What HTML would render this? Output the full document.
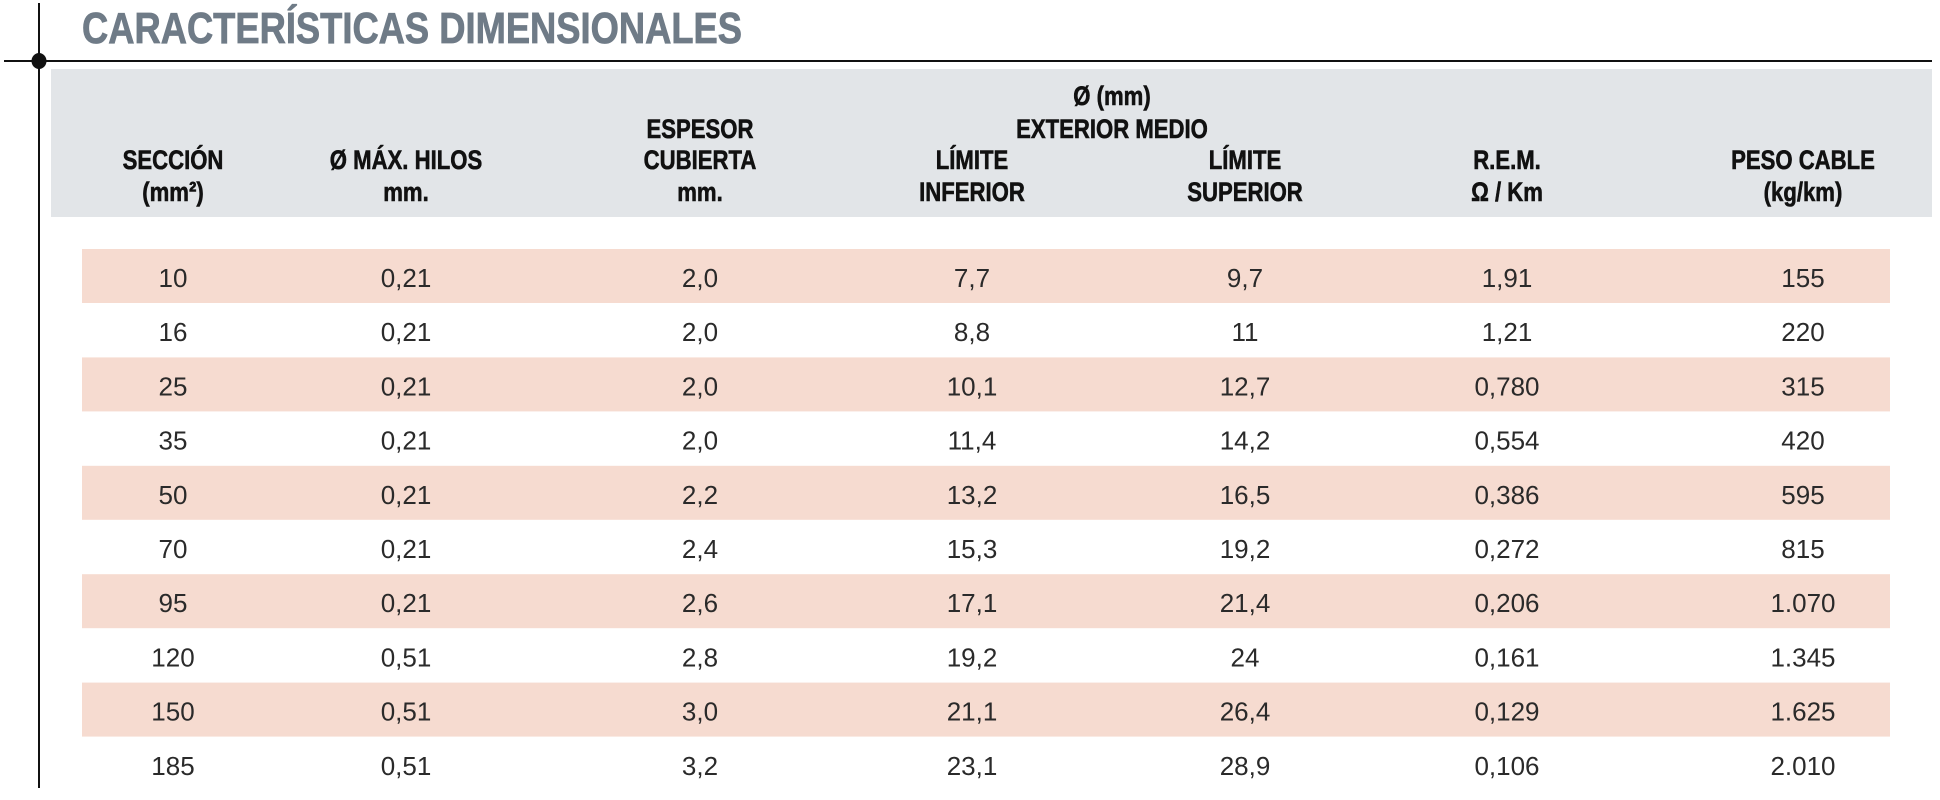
<!DOCTYPE html>
<html><head><meta charset="utf-8"><style>html,body{margin:0;padding:0;background:#fff;}svg{display:block}</style></head>
<body>
<svg width="1940" height="800" viewBox="0 0 1940 800" xmlns="http://www.w3.org/2000/svg">
<rect x="0" y="0" width="1940" height="800" fill="#fff"/>
<text x="82" y="43" font-family="Liberation Sans, sans-serif" font-weight="bold" font-size="44" fill="#6f7b87" stroke="#6f7b87" stroke-width="0.8" textLength="660" lengthAdjust="spacingAndGlyphs">CARACTERÍSTICAS DIMENSIONALES</text>
<rect x="51" y="69" width="1881" height="148" fill="#e2e5e8"/>
<line x1="4" y1="61" x2="1932" y2="61" stroke="#111" stroke-width="2"/>
<line x1="39" y1="3" x2="39" y2="788" stroke="#111" stroke-width="2"/>
<ellipse cx="39" cy="61" rx="7.5" ry="8" fill="#111"/>
<g fill="#f6dbd0">
<rect x="82" y="249" width="1808" height="54"/>
<rect x="82" y="357.4" width="1808" height="54"/>
<rect x="82" y="465.8" width="1808" height="54"/>
<rect x="82" y="574.2" width="1808" height="54"/>
<rect x="82" y="682.6" width="1808" height="54"/>
</g>
<g font-family="Liberation Sans, sans-serif" font-weight="bold" font-size="27" fill="#111" stroke="#111" stroke-width="0.6" text-anchor="middle">
<text transform="translate(173,169) scale(0.82,1)">SECCIÓN</text>
<text transform="translate(173,201) scale(0.82,1)">(mm²)</text>
<text transform="translate(406,169) scale(0.82,1)">Ø MÁX. HILOS</text>
<text transform="translate(406,201) scale(0.82,1)">mm.</text>
<text transform="translate(700,138) scale(0.82,1)">ESPESOR</text>
<text transform="translate(700,169) scale(0.82,1)">CUBIERTA</text>
<text transform="translate(700,201) scale(0.82,1)">mm.</text>
<text transform="translate(1112,105) scale(0.82,1)">Ø (mm)</text>
<text transform="translate(1112,138) scale(0.82,1)">EXTERIOR MEDIO</text>
<text transform="translate(972,169) scale(0.82,1)">LÍMITE</text>
<text transform="translate(972,201) scale(0.82,1)">INFERIOR</text>
<text transform="translate(1245,169) scale(0.82,1)">LÍMITE</text>
<text transform="translate(1245,201) scale(0.82,1)">SUPERIOR</text>
<text transform="translate(1507,169) scale(0.82,1)">R.E.M.</text>
<text transform="translate(1507,201) scale(0.82,1)">Ω / Km</text>
<text transform="translate(1803,169) scale(0.82,1)">PESO CABLE</text>
<text transform="translate(1803,201) scale(0.82,1)">(kg/km)</text>
</g>
<g font-family="Liberation Sans, sans-serif" font-size="26" fill="#2a2a2a" text-anchor="middle">
<text x="173" y="287">10</text><text x="406" y="287">0,21</text><text x="700" y="287">2,0</text><text x="972" y="287">7,7</text><text x="1245" y="287">9,7</text><text x="1507" y="287">1,91</text><text x="1803" y="287">155</text>
<text x="173" y="341.2">16</text><text x="406" y="341.2">0,21</text><text x="700" y="341.2">2,0</text><text x="972" y="341.2">8,8</text><text x="1245" y="341.2">11</text><text x="1507" y="341.2">1,21</text><text x="1803" y="341.2">220</text>
<text x="173" y="395.4">25</text><text x="406" y="395.4">0,21</text><text x="700" y="395.4">2,0</text><text x="972" y="395.4">10,1</text><text x="1245" y="395.4">12,7</text><text x="1507" y="395.4">0,780</text><text x="1803" y="395.4">315</text>
<text x="173" y="449.6">35</text><text x="406" y="449.6">0,21</text><text x="700" y="449.6">2,0</text><text x="972" y="449.6">11,4</text><text x="1245" y="449.6">14,2</text><text x="1507" y="449.6">0,554</text><text x="1803" y="449.6">420</text>
<text x="173" y="503.8">50</text><text x="406" y="503.8">0,21</text><text x="700" y="503.8">2,2</text><text x="972" y="503.8">13,2</text><text x="1245" y="503.8">16,5</text><text x="1507" y="503.8">0,386</text><text x="1803" y="503.8">595</text>
<text x="173" y="558">70</text><text x="406" y="558">0,21</text><text x="700" y="558">2,4</text><text x="972" y="558">15,3</text><text x="1245" y="558">19,2</text><text x="1507" y="558">0,272</text><text x="1803" y="558">815</text>
<text x="173" y="612.2">95</text><text x="406" y="612.2">0,21</text><text x="700" y="612.2">2,6</text><text x="972" y="612.2">17,1</text><text x="1245" y="612.2">21,4</text><text x="1507" y="612.2">0,206</text><text x="1803" y="612.2">1.070</text>
<text x="173" y="666.4">120</text><text x="406" y="666.4">0,51</text><text x="700" y="666.4">2,8</text><text x="972" y="666.4">19,2</text><text x="1245" y="666.4">24</text><text x="1507" y="666.4">0,161</text><text x="1803" y="666.4">1.345</text>
<text x="173" y="720.6">150</text><text x="406" y="720.6">0,51</text><text x="700" y="720.6">3,0</text><text x="972" y="720.6">21,1</text><text x="1245" y="720.6">26,4</text><text x="1507" y="720.6">0,129</text><text x="1803" y="720.6">1.625</text>
<text x="173" y="774.8">185</text><text x="406" y="774.8">0,51</text><text x="700" y="774.8">3,2</text><text x="972" y="774.8">23,1</text><text x="1245" y="774.8">28,9</text><text x="1507" y="774.8">0,106</text><text x="1803" y="774.8">2.010</text>
</g>
</svg>
</body></html>
